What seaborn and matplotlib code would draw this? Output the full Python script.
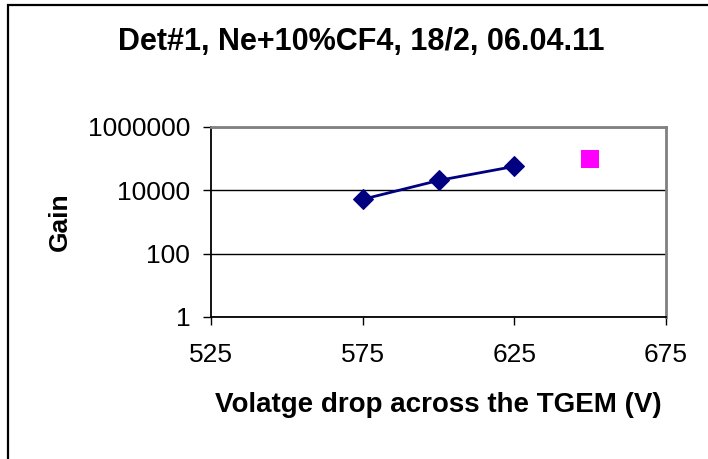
import matplotlib
matplotlib.use("Agg")
import matplotlib.pyplot as plt
import matplotlib.patches as mpatches
from matplotlib.ticker import FixedLocator, FuncFormatter, NullLocator
import seaborn as sns
import pandas as pd

# ---- data ----
voltage = [575, 600, 625]
gain = [5200, 20500, 57000]
extra_voltage = [650]
extra_gain = [95000]
x_ticks = [525, 575, 625, 675]
y_ticks = [1, 100, 10000, 1000000]

title = "Det#1, Ne+10%CF4, 18/2, 06.04.11"
xlabel = "Volatge drop across the TGEM (V)"
ylabel = "Gain"

sns.set_style("white")
plt.rcParams["font.family"] = ["Liberation Sans", "DejaVu Sans"]
plt.rcParams["text.color"] = "black"
plt.rcParams["axes.labelcolor"] = "black"
plt.rcParams["xtick.color"] = "black"
plt.rcParams["ytick.color"] = "black"

fig = plt.figure(figsize=(7.08, 4.59), dpi=100)
W, H = 708, 459
ax = fig.add_axes([211 / W, 1 - 317 / H, (666 - 211) / W, (317 - 127) / H])

df1 = pd.DataFrame({"v": voltage, "g": gain})
df2 = pd.DataFrame({"v": extra_voltage, "g": extra_gain})

ax.set_yscale("log")
for yt in y_ticks:
    ax.axhline(yt, color="black", lw=1.0, zorder=1)

sns.lineplot(data=df1, x="v", y="g", ax=ax, color="#000080", lw=2,
             marker="D", markersize=10.5, markeredgecolor="#000080",
             markerfacecolor="#000080", zorder=3)
sns.scatterplot(data=df2, x="v", y="g", ax=ax, color="#FF00FF", marker="s",
                s=165, edgecolor="#FF00FF", linewidth=0, zorder=3)

ax.set_xlim(525, 675)
ax.set_ylim(1, 1000000)
ax.xaxis.set_major_locator(FixedLocator(x_ticks))
ax.yaxis.set_major_locator(FixedLocator(y_ticks))
ax.yaxis.set_minor_locator(NullLocator())
ax.xaxis.set_minor_locator(NullLocator())
ax.yaxis.set_major_formatter(FuncFormatter(lambda v, p: f"{int(round(v))}"))
ax.xaxis.set_major_formatter(FuncFormatter(lambda v, p: f"{int(round(v))}"))

ax.tick_params(axis="both", which="major", direction="out", length=6,
               width=1, color="black", labelsize=19, labelcolor="black",
               left=True, bottom=True)
ax.tick_params(axis="y", pad=9)
ax.tick_params(axis="x", pad=13)

for s in ["left", "bottom"]:
    ax.spines[s].set_color("black")
    ax.spines[s].set_linewidth(1.3)
for s in ["top", "right"]:
    ax.spines[s].set_visible(True)
    ax.spines[s].set_color("#808080")
    ax.spines[s].set_linewidth(2)

ax.set_xlabel(xlabel, fontsize=20, fontweight="bold", color="black")
ax.set_ylabel(ylabel, fontsize=19, fontweight="bold", color="black")
ax.xaxis.set_label_coords(0.5, -(392 - 317) / 190)
ax.yaxis.set_label_coords((72 - 211) / 455, 0.5)

fig.text(361 / W, 1 - 50 / H, title, ha="center", va="baseline",
         fontsize=22, fontweight="bold", color="black")

border = mpatches.Rectangle((8 / W, -0.2), 1.5, 1.2 - 5 / H,
                            transform=fig.transFigure, fill=False,
                            edgecolor="black", lw=1.6, clip_on=False)
fig.patches.append(border)

fig.savefig("out.png", dpi=100)
